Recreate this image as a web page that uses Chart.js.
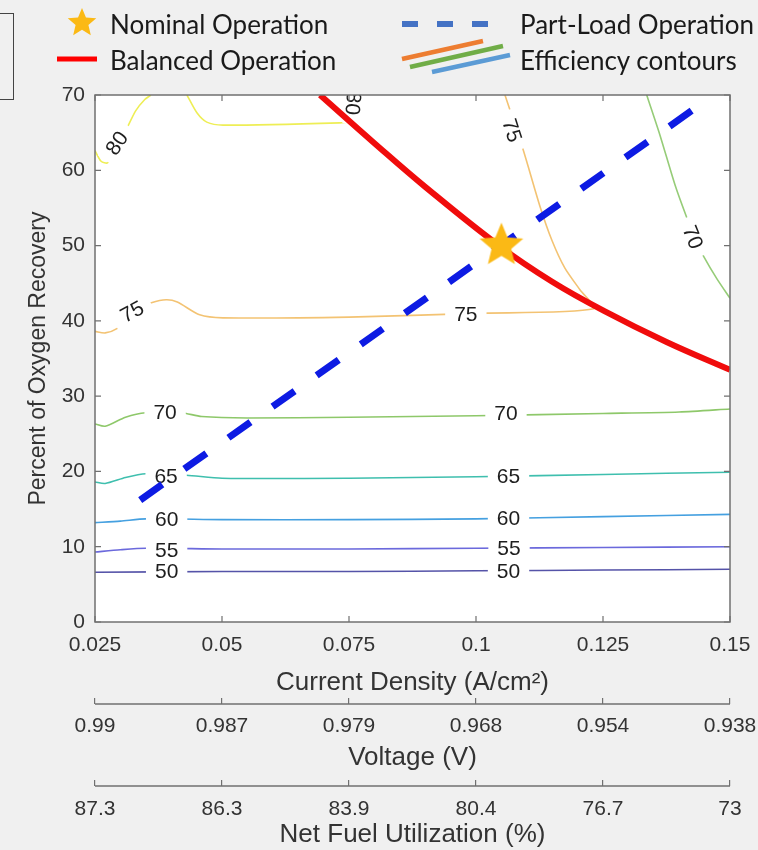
<!DOCTYPE html>
<html>
<head>
<meta charset="utf-8">
<script src="https://cdn.jsdelivr.net/npm/chart.js@4.4.1/dist/chart.umd.min.js"></script>
<style>
  body { margin: 0; background: #f0f0f0; }
  #wrap { position: relative; width: 758px; height: 850px; overflow: hidden; }
  #chart { position: absolute; left: 0; top: 0; }
  .leg { position: absolute; font-family: Lato, "Open Sans", sans-serif; font-size: 26px; line-height: 30px; color: #1a1a1a; white-space: nowrap; }
  .oldbox { position: absolute; left: -20px; top: 13px; width: 32px; height: 85px; border: 1.5px solid #444; }
  #legsym { position: absolute; left: 0; top: 0; }
</style>
</head>
<body>
<div id="wrap">
  <canvas id="chart" width="758" height="850"></canvas>
  <div class="oldbox"></div>
  <svg id="legsym" width="758" height="95">
    <line x1="57" y1="59" x2="97" y2="59" stroke="#ff0000" stroke-width="5"/>
    <line x1="402" y1="24" x2="492" y2="24" stroke="#4472c4" stroke-width="6" stroke-dasharray="16 19"/>
    <line x1="402" y1="59" x2="483" y2="41" stroke="#ed7d31" stroke-width="4.5"/>
    <line x1="410" y1="67" x2="503" y2="46" stroke="#70ad47" stroke-width="4.5"/>
    <line x1="432" y1="72" x2="510" y2="55" stroke="#5b9bd5" stroke-width="4.5"/>
  </svg>
  <canvas id="legstar" width="32" height="32" style="position:absolute;left:66px;top:7px"></canvas>
  <div class="leg" style="left:110px;top:9px">Nominal Operation</div>
  <div class="leg" style="left:110px;top:45px">Balanced Operation</div>
  <div class="leg" style="left:520px;top:9px">Part-Load Operation</div>
  <div class="leg" style="left:520px;top:45px">Efficiency contours</div>
</div>
<script>
// axis ticks
const xTicks = [0.025, 0.05, 0.075, 0.1, 0.125, 0.15];
const xTickLabels = ['0.025', '0.05', '0.075', '0.1', '0.125', '0.15'];
const voltageLabels = ['0.99', '0.987', '0.979', '0.968', '0.954', '0.938'];
const fuelLabels = ['87.3', '86.3', '83.9', '80.4', '76.7', '73'];

// operating points / lines
const nominalX = [0.105];
const nominalY = [50];
const balancedX = [0.0693, 0.08, 0.09, 0.1047, 0.115, 0.125, 0.1375, 0.15];
const balancedY = [70, 63.6, 57.8, 49.9, 45.2, 41.4, 37.2, 33.5];
const partLoadX = [0.0339, 0.1441];
const partLoadY = [16.2, 68.7];

// efficiency contours
const c50X = [0.025, 0.05, 0.075, 0.1, 0.125, 0.15];
const c50Y = [6.6, 6.7, 6.7, 6.8, 6.9, 7.0];
const c55X = [0.025, 0.03, 0.035, 0.05, 0.075, 0.1, 0.125, 0.15];
const c55Y = [9.3, 9.6, 9.8, 9.7, 9.7, 9.8, 9.9, 10.0];
const c60X = [0.025, 0.03, 0.035, 0.05, 0.075, 0.1, 0.125, 0.15];
const c60Y = [13.2, 13.4, 13.7, 13.6, 13.6, 13.7, 14.0, 14.3];
const c65X = [0.025, 0.027, 0.031, 0.035, 0.043, 0.05, 0.075, 0.1, 0.125, 0.15];
const c65Y = [18.6, 18.4, 19.2, 19.7, 19.5, 19.1, 19.1, 19.3, 19.6, 19.9];
const c70X = [0.025, 0.027, 0.031, 0.035, 0.042, 0.046, 0.055, 0.075, 0.1, 0.125, 0.14, 0.15];
const c70Y = [26.3, 26.0, 27.2, 27.8, 27.8, 27.3, 27.1, 27.2, 27.4, 27.7, 27.9, 28.3];
const c70rX = [0.1336, 0.1362, 0.1392, 0.1415, 0.1434, 0.1447, 0.1474, 0.15];
const c70rY = [70, 64.7, 58.0, 53.7, 50.5, 48.7, 45.6, 43.0];
const c75X = [0.025, 0.027, 0.0294, 0.031, 0.0329, 0.0361, 0.039, 0.0412, 0.0456, 0.0502, 0.075, 0.1, 0.1232, 0.1205, 0.1175, 0.115, 0.1126, 0.1093, 0.1057];
const c75Y = [38.6, 38.4, 39.0, 40.2, 41.5, 42.4, 42.8, 42.5, 40.8, 40.4, 40.5, 41.0, 41.6, 44.1, 47.0, 50.6, 55.2, 62.7, 70];
const c80X = [0.025, 0.0262, 0.0275, 0.0295, 0.0313, 0.033, 0.0348, 0.036, 0.04, 0.0431, 0.0451, 0.047, 0.0502, 0.0732, 0.0765];
const c80Y = [62.6, 61.2, 61.0, 63.2, 65.6, 67.9, 69.4, 70, null, 70, 67.6, 66.4, 66.0, 66.3, 66.5];

// contour labels: text, x, y, angle
const contourLabels = [
  ['50', 0.0391, 6.7, 0], ['50', 0.1064, 6.7, 0],
  ['55', 0.0391, 9.6, 0], ['55', 0.1065, 9.8, 0],
  ['60', 0.0391, 13.7, 0], ['60', 0.1064, 13.8, 0],
  ['65', 0.039, 19.3, 0], ['65', 0.1064, 19.3, 0],
  ['70', 0.0388, 27.9, 0], ['70', 0.1059, 27.7, 0],
  ['75', 0.0323, 41.2, -28], ['75', 0.098, 40.9, 0], ['75', 0.1071, 65.3, 72],
  ['70', 0.1427, 51.1, 68],
  ['80', 0.0293, 63.6, -56], ['80', 0.0758, 68.9, 95]
];

const pts = (xs, ys) => xs.map((x, i) => ({ x: x, y: ys[i] }));

function drawStar(c, r, color) {
  const ctx = c.getContext('2d');
  const cx = c.width / 2, cy = c.height / 2;
  ctx.beginPath();
  for (let i = 0; i < 10; i++) {
    const rr = i % 2 ? r * 0.45 : r;
    const a = -Math.PI / 2 + i * Math.PI / 5;
    ctx.lineTo(cx + rr * Math.cos(a), cy + rr * Math.sin(a));
  }
  ctx.closePath();
  ctx.fillStyle = color;
  ctx.fill();
}

const starImg = document.createElement('canvas');
starImg.width = 48; starImg.height = 48;
drawStar(starImg, 23, '#fbb915');
drawStar(document.getElementById('legstar'), 15, '#fbb915');

function contour(xs, ys, color) {
  return {
    data: pts(xs, ys),
    borderColor: color,
    borderWidth: 1.6,
    pointRadius: 0,
    tension: 0.25,
    fill: false
  };
}

const tickFont = { family: '"Liberation Sans", Arial, sans-serif', size: 21 };
const titleFont = { family: '"Liberation Sans", Arial, sans-serif', size: 26 };

function noSidePad(s, h) {
  s.height = h;
  s.paddingLeft = 0;
  s.paddingRight = 0;
}

function extraAxis(labels, title, weight, h, pad, titlePad) {
  return {
    type: 'linear',
    position: 'bottom',
    weight: weight,
    min: 0.025,
    max: 0.15,
    afterBuildTicks: s => { s.ticks = xTicks.map(v => ({ value: v })); },
    afterFit: s => noSidePad(s, h),
    grid: { display: true, drawOnChartArea: false, drawTicks: true, tickLength: 6, color: '#707070', lineWidth: 1.2 },
    border: { display: false },
    ticks: { autoSkip: false, maxRotation: 0, padding: pad, color: '#333', font: tickFont,
      callback: (v, i) => labels[i] },
    title: { display: true, text: title, color: '#333', font: titleFont, padding: { top: 0, bottom: titlePad } }
  };
}

const frame = {
  id: 'frame',
  beforeDraw(chart) {
    const { ctx, chartArea: a } = chart;
    ctx.save();
    ctx.fillStyle = '#ffffff';
    ctx.fillRect(a.left, a.top, a.width, a.height);
    ctx.restore();
  },
  beforeDatasetDraw(chart, args) {
    if (args.index !== 2) return;
    const { ctx, chartArea: a } = chart;
    const x = chart.scales.x, y = chart.scales.y;
    ctx.save();
    ctx.beginPath();
    ctx.rect(a.left, a.top, a.width, a.height);
    ctx.clip();
    ctx.font = '21px "Liberation Sans", Arial, sans-serif';
    ctx.textAlign = 'center';
    ctx.textBaseline = 'middle';
    contourLabels.forEach(([t, lx, ly, ang]) => {
      ctx.save();
      ctx.translate(x.getPixelForValue(lx), y.getPixelForValue(ly));
      ctx.rotate(ang * Math.PI / 180);
      const w = ctx.measureText(t).width + 18;
      ctx.fillStyle = '#ffffff';
      ctx.fillRect(-w / 2, -9, w, 18);
      ctx.fillStyle = '#1e1e1e';
      ctx.fillText(t, 0, 1);
      ctx.restore();
    });
    ctx.restore();
  },
  afterDatasetsDraw(chart) {
    const { ctx, chartArea: a } = chart;
    const x = chart.scales.x, y = chart.scales.y;
    ctx.save();
    ctx.strokeStyle = '#707070';
    ctx.lineWidth = 1.5;
    ctx.strokeRect(a.left, a.top, a.width, a.height);
    ctx.lineWidth = 1.2;
    ctx.beginPath();
    xTicks.forEach(v => {
      const px = x.getPixelForValue(v);
      ctx.moveTo(px, a.bottom); ctx.lineTo(px, a.bottom - 6);
      ctx.moveTo(px, a.top); ctx.lineTo(px, a.top + 6);
    });
    y.ticks.forEach(t => {
      const py = y.getPixelForValue(t.value);
      ctx.moveTo(a.left, py); ctx.lineTo(a.left + 6, py);
      ctx.moveTo(a.right, py); ctx.lineTo(a.right - 6, py);
    });
    ctx.stroke();
    ctx.restore();
  },
  afterDraw(chart) {
    const { ctx } = chart;
    ctx.save();
    ctx.strokeStyle = '#707070';
    ctx.lineWidth = 1.5;
    ['xv', 'xf'].forEach(id => {
      const s = chart.scales[id];
      ctx.beginPath();
      ctx.moveTo(s.left, s.top + 6);
      ctx.lineTo(s.right, s.top + 6);
      ctx.stroke();
    });
    ctx.restore();
  }
};

new Chart(document.getElementById('chart'), {
  type: 'line',
  data: {
    datasets: [
      {
        data: pts(nominalX, nominalY),
        showLine: false,
        pointStyle: starImg,
        pointRadius: 23
      },
      {
        data: pts(balancedX, balancedY),
        borderColor: '#f00c0c',
        borderWidth: 6,
        pointRadius: 0,
        tension: 0.4
      },
      {
        data: pts(partLoadX, partLoadY),
        borderColor: '#0d1be3',
        borderWidth: 7,
        borderDash: [27, 27],
        pointRadius: 0
      },
      contour(c50X, c50Y, '#5553a8'),
      contour(c55X, c55Y, '#6b69dc'),
      contour(c60X, c60Y, '#45a0e0'),
      contour(c65X, c65Y, '#3fbfae'),
      contour(c70X, c70Y, '#8ec86a'),
      contour(c70rX, c70rY, '#96cc78'),
      contour(c75X, c75Y, '#f3c373'),
      contour(c80X, c80Y, '#eeee55')
    ]
  },
  options: {
    responsive: false,
    animation: false,
    events: [],
    layout: { padding: { top: 95, right: 28, bottom: 0, left: 0 } },
    plugins: { legend: { display: false }, tooltip: { enabled: false } },
    scales: {
      x: {
        type: 'linear',
        position: 'bottom',
        weight: 0,
        min: 0.025,
        max: 0.15,
        afterBuildTicks: s => { s.ticks = xTicks.map(v => ({ value: v })); },
        afterFit: s => noSidePad(s, 76),
        grid: { display: false, drawTicks: false },
        border: { display: false },
        ticks: { autoSkip: false, maxRotation: 0, padding: 11, color: '#333', font: tickFont,
          callback: (v, i) => xTickLabels[i] },
        title: { display: true, text: 'Current Density (A/cm²)', color: '#333', font: titleFont, padding: { top: 0, bottom: 0 } }
      },
      xv: extraAxis(voltageLabels, 'Voltage (V)', 1, 82, 10, 7),
      xf: extraAxis(fuelLabels, 'Net Fuel Utilization (%)', 2, 70, 11, 0),
      y: {
        min: 0,
        max: 70,
        afterFit: s => { s.width = 95; s.paddingTop = 0; s.paddingBottom = 0; },
        grid: { display: false, drawTicks: false },
        border: { display: false },
        ticks: { stepSize: 10, padding: 10, color: '#333', font: tickFont },
        title: { display: true, text: 'Percent of Oxygen Recovery', color: '#333',
          font: { family: '"Liberation Sans", Arial, sans-serif', size: 23 }, padding: { top: 25, bottom: 0 } }
      }
    }
  },
  plugins: [frame]
});
</script>
</body>
</html>
